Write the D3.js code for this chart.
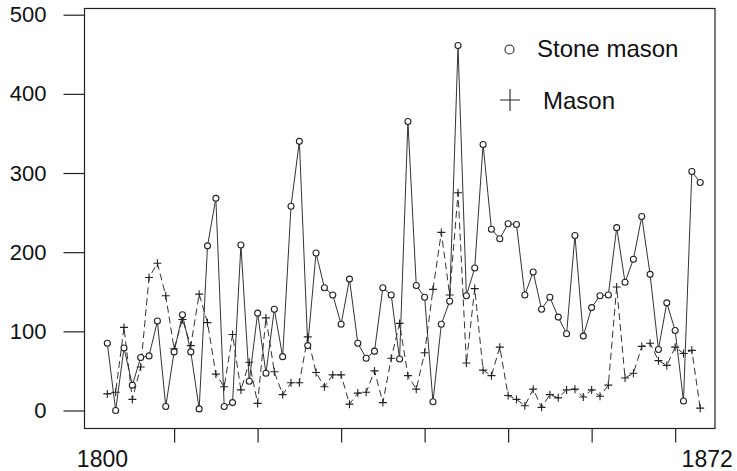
<!DOCTYPE html>
<html>
<head>
<meta charset="utf-8">
<script src="https://d3js.org/d3.v7.min.js"></script>
<style>
  body { margin: 0; background: white; }
  text { font-family: "Liberation Sans", Arial, sans-serif; fill: #111; }
</style>
</head>
<body>
<script>
'use strict';
// yearly counts, 1801 - 1872
const years = [1801, 1802, 1803, 1804, 1805, 1806, 1807, 1808, 1809, 1810,
  1811, 1812, 1813, 1814, 1815, 1816, 1817, 1818, 1819, 1820,
  1821, 1822, 1823, 1824, 1825, 1826, 1827, 1828, 1829, 1830,
  1831, 1832, 1833, 1834, 1835, 1836, 1837, 1838, 1839, 1840,
  1841, 1842, 1843, 1844, 1845, 1846, 1847, 1848, 1849, 1850,
  1851, 1852, 1853, 1854, 1855, 1856, 1857, 1858, 1859, 1860,
  1861, 1862, 1863, 1864, 1865, 1866, 1867, 1868, 1869, 1870,
  1871, 1872];
const stoneMason = [85, 0, 79, 32, 67, 69, 113, 5, 74, 121,
  74, 2, 208, 268, 5, 10, 209, 37, 123, 47,
  128, 68, 258, 340, 82, 199, 155, 146, 109, 166,
  85, 66, 75, 155, 146, 65, 365, 158, 143, 11,
  109, 138, 461, 145, 180, 336, 229, 217, 236, 235,
  146, 175, 128, 143, 118, 97, 221, 94, 130, 145,
  146, 231, 162, 191, 245, 172, 77, 136, 101, 12,
  302, 288];
const mason = [21, 23, 105, 14, 55, 168, 186, 145, 78, 115,
  82, 147, 111, 46, 30, 96, 26, 61, 9, 117,
  49, 20, 35, 35, 93, 48, 30, 45, 45, 8,
  22, 23, 50, 10, 66, 110, 44, 27, 73, 153,
  225, 146, 275, 60, 154, 51, 44, 80, 19, 14,
  6, 27, 4, 20, 16, 26, 27, 17, 26, 18,
  32, 156, 41, 47, 81, 85, 63, 57, 80, 72,
  76, 3];
const yTicks = [0, 100, 200, 300, 400, 500];
const xTicks = [1809, 1819, 1829, 1839, 1849, 1859, 1869];
const xEndLabels = ["1800", "1872"];
const seriesNames = ["Stone mason", "Mason"];

(function() {
    let svgContainer = "";

    window.onload = function() {
        svgContainer = d3.select('body')
        .append('svg')
        .attr('width', 737)
        .attr('height', 471);

        // scales fitted to the plot frame
        let xScale = d3.scaleLinear()
          .domain([1801, 1872])
          .range([107.3, 700.2]);
        let yScale = d3.scaleLinear()
          .domain([0, 500])
          .range([410.5, 14.7]);

        drawFrame(xScale, yScale);
        plotSeries(xScale, yScale);
        makeLegend();
    }

    // box, ticks and labels
    function drawFrame(xScale, yScale) {
        svgContainer.append('rect')
          .attr('x', 84.5)
          .attr('y', 8.5)
          .attr('width', 630.5)
          .attr('height', 420)
          .attr('fill', 'none')
          .attr('stroke', '#222')
          .attr('stroke-width', 1.2);

        let yAxis = d3.axisLeft(yScale)
          .tickValues(yTicks)
          .tickSize(21)
          .tickSizeOuter(0)
          .tickPadding(17);
        let yg = svgContainer.append('g')
          .attr('transform', 'translate(84.5,0)')
          .call(yAxis);
        yg.select('.domain').remove();
        yg.selectAll('line').attr('stroke', '#222').attr('stroke-width', 1.2);
        yg.selectAll('text')
          .style('font-family', '"Liberation Sans", Arial, sans-serif')
          .style('font-size', '22px')
          .attr('fill', '#111');

        let xAxis = d3.axisBottom(xScale)
          .tickValues(xTicks)
          .tickSize(14)
          .tickSizeOuter(0)
          .tickFormat('');
        let xg = svgContainer.append('g')
          .attr('transform', 'translate(0,428.5)')
          .call(xAxis);
        xg.select('.domain').remove();
        xg.selectAll('line').attr('stroke', '#222').attr('stroke-width', 1.2);

        // only the two end years are labelled
        svgContainer.append('text')
          .attr('x', xScale(1800) + 3.5)
          .attr('y', 467)
          .attr('text-anchor', 'middle')
          .style('font-size', '23px')
          .text(xEndLabels[0]);
        svgContainer.append('text')
          .attr('x', xScale(1872) + 7)
          .attr('y', 467)
          .attr('text-anchor', 'middle')
          .style('font-size', '23px')
          .text(xEndLabels[1]);
    }

    // the two series: solid with circles, dashed with pluses
    function plotSeries(xScale, yScale) {
        let stoneData = years.map((y, i) => ({year: y, value: stoneMason[i]}));
        let masonData = years.map((y, i) => ({year: y, value: mason[i]}));

        let line = d3.line()
          .x(d => xScale(d.year))
          .y(d => yScale(d.value));

        svgContainer.append('path')
          .datum(masonData)
          .attr('d', line)
          .attr('fill', 'none')
          .attr('stroke', '#333')
          .attr('stroke-width', 1)
          .attr('stroke-dasharray', '7,4');

        svgContainer.append('path')
          .datum(stoneData)
          .attr('d', line)
          .attr('fill', 'none')
          .attr('stroke', '#333')
          .attr('stroke-width', 1);

        svgContainer.selectAll('.plus')
          .data(masonData)
          .enter()
          .append('path')
            .attr('class', 'plus')
            .attr('d', d => 'M' + (xScale(d.year) - 4) + ',' + yScale(d.value) +
                  'h8M' + xScale(d.year) + ',' + (yScale(d.value) - 4) + 'v8')
            .attr('stroke', '#222')
            .attr('stroke-width', 1.1)
            .attr('fill', 'none');

        svgContainer.selectAll('.dot')
          .data(stoneData)
          .enter()
          .append('circle')
            .attr('class', 'dot')
            .attr('cx', d => xScale(d.year))
            .attr('cy', d => yScale(d.value))
            .attr('r', 3)
            .attr('fill', 'white')
            .attr('stroke', '#222')
            .attr('stroke-width', 1.1);
    }

    function makeLegend() {
        svgContainer.append('circle')
          .attr('cx', 509.5)
          .attr('cy', 49.5)
          .attr('r', 4.5)
          .attr('fill', 'none')
          .attr('stroke', '#222')
          .attr('stroke-width', 1.1);
        svgContainer.append('text')
          .attr('x', 537)
          .attr('y', 57)
          .style('font-size', '24px')
          .text(seriesNames[0]);

        svgContainer.append('path')
          .attr('d', 'M500,100h20M510,89v22')
          .attr('stroke', '#222')
          .attr('stroke-width', 1.1);
        svgContainer.append('text')
          .attr('x', 543)
          .attr('y', 109)
          .style('font-size', '24px')
          .text(seriesNames[1]);
    }
})();
</script>
</body>
</html>
